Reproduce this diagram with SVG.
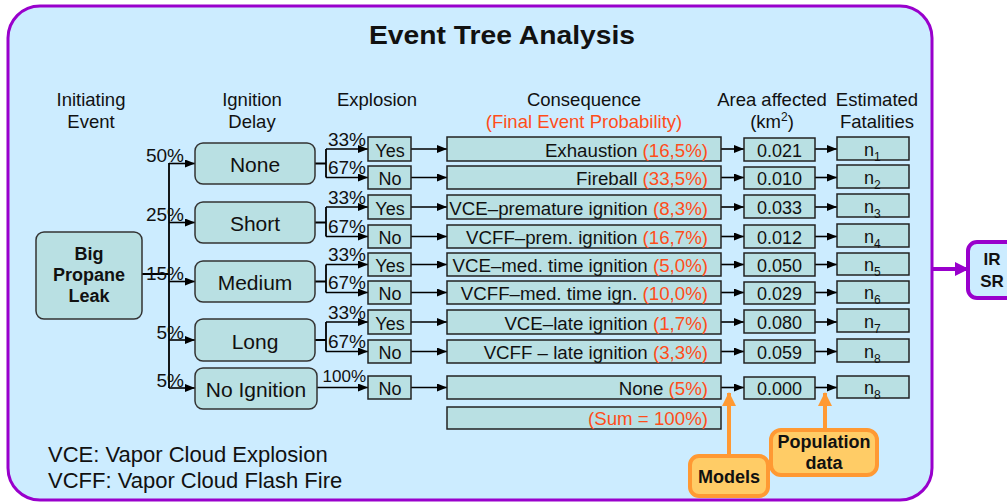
<svg xmlns="http://www.w3.org/2000/svg" width="1007" height="502" viewBox="0 0 1007 502">
<defs>
<marker id="ah" markerWidth="10" markerHeight="8" refX="10" refY="4" orient="auto" markerUnits="userSpaceOnUse"><path d="M0,0 L10,4 L0,8z" fill="#000"/></marker>
<marker id="ahp" markerWidth="14" markerHeight="14" refX="13" refY="7" orient="auto" markerUnits="userSpaceOnUse"><path d="M0,0 L14,7 L0,14z" fill="#9900CC"/></marker>
<marker id="aho" markerWidth="14" markerHeight="14" refX="13" refY="7" orient="auto" markerUnits="userSpaceOnUse"><path d="M0,0 L14,7 L0,14z" fill="#FF9933"/></marker>
<style>
text{font-family:"Liberation Sans",Arial,sans-serif;fill:#111}
.hdr{font-size:18.5px;text-anchor:middle}
.red{fill:#FF4D1A}
.box{fill:#B9E0E3;stroke:#222;stroke-width:1.5}
.ign{fill:#B9E0E3;stroke:#333;stroke-width:1.5}
.t18{font-size:18px}
.t19{font-size:18.7px}
.mid{text-anchor:middle}
.end{text-anchor:end}
.pct{font-size:19px;text-anchor:end}
.c{fill:none;stroke:#000;stroke-width:1.8}
.ca{fill:none;stroke:#000;stroke-width:1.6;marker-end:url(#ah)}
.orb{fill:#FFCC66;stroke:#FF9933;stroke-width:4}
.b{font-weight:bold}
</style>
</defs>
<g id="panel">
<rect x="8" y="6" width="924" height="494" rx="32" fill="#CCECFF" stroke="#9900CC" stroke-width="3"/>
<text x="502" y="44" font-size="26" font-weight="bold" text-anchor="middle" textLength="266" lengthAdjust="spacingAndGlyphs">Event Tree Analysis</text>
</g>
<g id="headers">
<text class="hdr" x="91" y="106">Initiating</text>
<text class="hdr" x="91" y="128">Event</text>
<text class="hdr" x="252" y="106">Ignition</text>
<text class="hdr" x="252" y="128">Delay</text>
<text class="hdr" x="377" y="106">Explosion</text>
<text class="hdr" x="584" y="106">Consequence</text>
<text class="hdr red" x="584" y="128">(Final Event Probability)</text>
<text class="hdr" x="772" y="106">Area affected</text>
<text class="hdr" x="772" y="128">(km<tspan font-size="12" dy="-7">2</tspan><tspan dy="7">)</tspan></text>
<text class="hdr" x="877" y="106">Estimated</text>
<text class="hdr" x="877" y="128">Fatalities</text>
</g>
<g id="connectors">
<path class="c" d="M142,274 H169 M169,163 V388"/>
<path class="ca" d="M169,163.5 H195"/>
<path class="ca" d="M169,222.5 H195"/>
<path class="ca" d="M169,281.5 H195"/>
<path class="ca" d="M169,340 H195"/>
<path class="ca" d="M169,388 H195"/>
<path class="c" d="M315,163.5 H326 M326,149 V177.5"/>
<path class="c" d="M315,222.5 H326 M326,207 V236.5"/>
<path class="c" d="M315,281.5 H326 M326,264.5 V292.5"/>
<path class="c" d="M315,340 H326 M326,322 V351.5"/>
<path class="ca" d="M326,149 H368"/>
<path class="ca" d="M326,177.5 H368"/>
<path class="ca" d="M326,207 H368"/>
<path class="ca" d="M326,236.5 H368"/>
<path class="ca" d="M326,264.5 H368"/>
<path class="ca" d="M326,292.5 H368"/>
<path class="ca" d="M326,322 H368"/>
<path class="ca" d="M326,351.5 H368"/>
<path class="ca" d="M317,387.5 H368"/>
<path class="ca" d="M411,149 H447"/>
<path class="ca" d="M411,177.5 H447"/>
<path class="ca" d="M411,207 H447"/>
<path class="ca" d="M411,236.5 H447"/>
<path class="ca" d="M411,264.5 H447"/>
<path class="ca" d="M411,292.5 H447"/>
<path class="ca" d="M411,322 H447"/>
<path class="ca" d="M411,351.5 H447"/>
<path class="ca" d="M411,387.5 H447"/>
<path class="ca" d="M721,149 H744"/>
<path class="ca" d="M721,177.5 H744"/>
<path class="ca" d="M721,207 H744"/>
<path class="ca" d="M721,236.5 H744"/>
<path class="ca" d="M721,264.5 H744"/>
<path class="ca" d="M721,292.5 H744"/>
<path class="ca" d="M721,322 H744"/>
<path class="ca" d="M721,351.5 H744"/>
<path class="ca" d="M721,387.5 H744"/>
<path class="ca" d="M815,149 H837"/>
<path class="ca" d="M815,177.5 H837"/>
<path class="ca" d="M815,207 H837"/>
<path class="ca" d="M815,236.5 H837"/>
<path class="ca" d="M815,264.5 H837"/>
<path class="ca" d="M815,292.5 H837"/>
<path class="ca" d="M815,322 H837"/>
<path class="ca" d="M815,351.5 H837"/>
<path class="ca" d="M815,387.5 H837"/>
<path d="M729,457 V393" fill="none" stroke="#FF9933" stroke-width="4" marker-end="url(#aho)"/>
<path d="M825,430 V393" fill="none" stroke="#FF9933" stroke-width="4" marker-end="url(#aho)"/>
<path d="M932,269 H968" fill="none" stroke="#9900CC" stroke-width="4" marker-end="url(#ahp)"/>
</g>
<g id="pct-labels">
<text class="pct" x="184" y="162">50%</text>
<text class="pct" x="184" y="221">25%</text>
<text class="pct" x="184" y="280">15%</text>
<text class="pct" x="184" y="339">5%</text>
<text class="pct" x="184" y="387">5%</text>
<text class="pct" x="366" y="146">33%</text>
<text class="pct" x="366" y="174">67%</text>
<text class="pct" x="366" y="204">33%</text>
<text class="pct" x="366" y="233">67%</text>
<text class="pct" x="366" y="261">33%</text>
<text class="pct" x="366" y="289">67%</text>
<text class="pct" x="366" y="319">33%</text>
<text class="pct" x="366" y="348">67%</text>
<text class="pct" x="366" y="382" style="font-size:17px">100%</text>
</g>
<g id="big-propane-leak">
<rect class="ign" x="36" y="232" width="106" height="87" rx="8"/>
<text class="b mid" x="89" y="260" font-size="18">Big</text>
<text class="b mid" x="89" y="281" font-size="18">Propane</text>
<text class="b mid" x="89" y="302" font-size="18">Leak</text>
</g>
<g id="ign-none"><rect class="ign" x="195" y="143" width="120" height="41" rx="8"/><text class="mid" x="255" y="172" font-size="21">None</text></g>
<g id="ign-short"><rect class="ign" x="195" y="202" width="120" height="41" rx="8"/><text class="mid" x="255" y="231" font-size="21">Short</text></g>
<g id="ign-medium"><rect class="ign" x="195" y="261" width="120" height="41" rx="8"/><text class="mid" x="255" y="290" font-size="21">Medium</text></g>
<g id="ign-long"><rect class="ign" x="195" y="319" width="120" height="42" rx="8"/><text class="mid" x="255" y="349" font-size="21">Long</text></g>
<g id="ign-noignition"><rect class="ign" x="195" y="368" width="122" height="41" rx="8"/><text class="mid" x="256" y="397" font-size="21">No Ignition</text></g>
<g id="exp-1"><rect class="box" x="368" y="137" width="43" height="24"/><text class="t18 mid" x="390" y="157">Yes</text></g>
<g id="exp-2"><rect class="box" x="368" y="166" width="43" height="23"/><text class="t18 mid" x="390" y="185">No</text></g>
<g id="exp-3"><rect class="box" x="368" y="195" width="43" height="24"/><text class="t18 mid" x="390" y="215">Yes</text></g>
<g id="exp-4"><rect class="box" x="368" y="225" width="43" height="23"/><text class="t18 mid" x="390" y="244">No</text></g>
<g id="exp-5"><rect class="box" x="368" y="253" width="43" height="23"/><text class="t18 mid" x="390" y="272">Yes</text></g>
<g id="exp-6"><rect class="box" x="368" y="281" width="43" height="23"/><text class="t18 mid" x="390" y="300">No</text></g>
<g id="exp-7"><rect class="box" x="368" y="310" width="43" height="24"/><text class="t18 mid" x="390" y="330">Yes</text></g>
<g id="exp-8"><rect class="box" x="368" y="340" width="43" height="23"/><text class="t18 mid" x="390" y="359">No</text></g>
<g id="exp-9"><rect class="box" x="368" y="376" width="43" height="23"/><text class="t18 mid" x="390" y="395">No</text></g>
<g id="con-1"><rect class="box" x="447" y="137" width="274" height="24"/><text class="t19 end" x="708" y="157">Exhaustion <tspan class="red">(16,5%)</tspan></text></g>
<g id="con-2"><rect class="box" x="447" y="166" width="274" height="23"/><text class="t19 end" x="708" y="185">Fireball <tspan class="red">(33,5%)</tspan></text></g>
<g id="con-3"><rect class="box" x="447" y="195" width="274" height="24"/><text class="t19 end" x="708" y="215">VCE–premature ignition <tspan class="red">(8,3%)</tspan></text></g>
<g id="con-4"><rect class="box" x="447" y="225" width="274" height="23"/><text class="t19 end" x="708" y="244">VCFF–prem. ignition <tspan class="red">(16,7%)</tspan></text></g>
<g id="con-5"><rect class="box" x="447" y="253" width="274" height="23"/><text class="t19 end" x="708" y="272">VCE–med. time ignition <tspan class="red">(5,0%)</tspan></text></g>
<g id="con-6"><rect class="box" x="447" y="281" width="274" height="23"/><text class="t19 end" x="708" y="300">VCFF–med. time ign. <tspan class="red">(10,0%)</tspan></text></g>
<g id="con-7"><rect class="box" x="447" y="310" width="274" height="24"/><text class="t19 end" x="708" y="330">VCE–late ignition <tspan class="red">(1,7%)</tspan></text></g>
<g id="con-8"><rect class="box" x="447" y="340" width="274" height="23"/><text class="t19 end" x="708" y="359">VCFF – late ignition <tspan class="red">(3,3%)</tspan></text></g>
<g id="con-9"><rect class="box" x="447" y="376" width="274" height="23"/><text class="t19 end" x="708" y="395">None <tspan class="red">(5%)</tspan></text></g>
<g id="con-sum"><rect class="box" x="447" y="407" width="274" height="22"/><text class="t19 end red" x="708" y="425">(Sum = 100%)</text></g>
<g id="area-1"><rect class="box" x="744" y="138" width="71" height="23"/><text class="t18 mid" x="779.5" y="157">0.021</text></g>
<g id="area-2"><rect class="box" x="744" y="167" width="71" height="22"/><text class="t18 mid" x="779.5" y="185">0.010</text></g>
<g id="area-3"><rect class="box" x="744" y="195" width="71" height="23"/><text class="t18 mid" x="779.5" y="214">0.033</text></g>
<g id="area-4"><rect class="box" x="744" y="225" width="71" height="23"/><text class="t18 mid" x="779.5" y="244">0.012</text></g>
<g id="area-5"><rect class="box" x="744" y="253" width="71" height="23"/><text class="t18 mid" x="779.5" y="272">0.050</text></g>
<g id="area-6"><rect class="box" x="744" y="282" width="71" height="22"/><text class="t18 mid" x="779.5" y="300">0.029</text></g>
<g id="area-7"><rect class="box" x="744" y="310" width="71" height="23"/><text class="t18 mid" x="779.5" y="329">0.080</text></g>
<g id="area-8"><rect class="box" x="744" y="340" width="71" height="23"/><text class="t18 mid" x="779.5" y="359">0.059</text></g>
<g id="area-9"><rect class="box" x="744" y="377" width="71" height="22"/><text class="t18 mid" x="779.5" y="395">0.000</text></g>
<g id="fat-1"><rect class="box" x="837" y="137" width="72" height="23"/><text class="t18" x="864" y="156">n<tspan font-size="12" dy="5">1</tspan></text></g>
<g id="fat-2"><rect class="box" x="837" y="165" width="72" height="23"/><text class="t18" x="864" y="184">n<tspan font-size="12" dy="5">2</tspan></text></g>
<g id="fat-3"><rect class="box" x="837" y="194" width="72" height="23"/><text class="t18" x="864" y="213">n<tspan font-size="12" dy="5">3</tspan></text></g>
<g id="fat-4"><rect class="box" x="837" y="224" width="72" height="23"/><text class="t18" x="864" y="243">n<tspan font-size="12" dy="5">4</tspan></text></g>
<g id="fat-5"><rect class="box" x="837" y="253" width="72" height="22"/><text class="t18" x="864" y="271">n<tspan font-size="12" dy="5">5</tspan></text></g>
<g id="fat-6"><rect class="box" x="837" y="281" width="72" height="22"/><text class="t18" x="864" y="299">n<tspan font-size="12" dy="5">6</tspan></text></g>
<g id="fat-7"><rect class="box" x="837" y="309" width="72" height="23"/><text class="t18" x="864" y="328">n<tspan font-size="12" dy="5">7</tspan></text></g>
<g id="fat-8"><rect class="box" x="837" y="339" width="72" height="23"/><text class="t18" x="864" y="358">n<tspan font-size="12" dy="5">8</tspan></text></g>
<g id="fat-9"><rect class="box" x="837" y="376" width="72" height="22"/><text class="t18" x="864" y="394">n<tspan font-size="12" dy="5">8</tspan></text></g>
<g id="models"><rect class="orb" x="690" y="456" width="78" height="40" rx="9"/><text class="b mid" x="729" y="483" font-size="18">Models</text></g>
<g id="population"><rect class="orb" x="771" y="430" width="106" height="45" rx="10"/><text class="b mid" x="824" y="448" font-size="18">Population</text><text class="b mid" x="824" y="469" font-size="18">data</text></g>
<g id="ir-sr"><rect x="968" y="242" width="60" height="56" rx="9" fill="#CCECFF" stroke="#9900CC" stroke-width="4"/><text class="b mid" x="992" y="265" font-size="17">IR</text><text class="b mid" x="992" y="287" font-size="17">SR</text></g>
<g id="legend">
<text x="48" y="462" font-size="22">VCE: Vapor Cloud Explosion</text>
<text x="48" y="488" font-size="22">VCFF: Vapor Cloud Flash Fire</text>
</g>
</svg>
